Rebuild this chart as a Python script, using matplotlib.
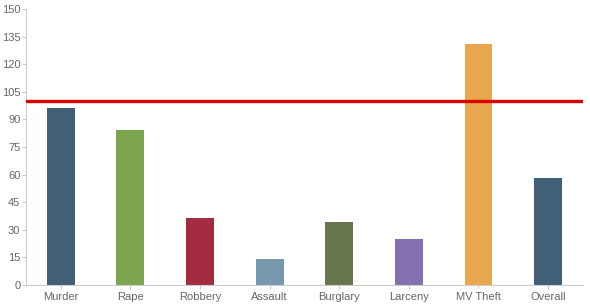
import matplotlib
matplotlib.use("Agg")
import matplotlib.pyplot as plt

categories = ["Murder", "Rape", "Robbery", "Assault", "Burglary", "Larceny", "MV Theft", "Overall"]
values = [96.2, 84.2, 36.4, 14.1, 34.2, 25.0, 131.0, 58.2]
colors = ["#425f78", "#7ba54f", "#a42c41", "#7699b0", "#66754b", "#8270b0", "#e8a74f", "#425f78"]
reference = 100
yticks = list(range(0, 151, 15))

plt.rcParams["font.family"] = ["Liberation Sans", "DejaVu Sans"]

fig = plt.figure(figsize=(5.9, 3.05), dpi=100)
ax = fig.add_axes([0.044, 0.0656, 0.944, 0.905])

x = list(range(len(categories)))
ax.bar(x, values, width=0.4, color=colors, zorder=2)
ax.axhline(reference, color="#dd0000", linewidth=2.4, zorder=3)

ax.set_xlim(-0.5, len(categories) - 0.5)
ax.set_ylim(0, 150)
ax.set_yticks(yticks)
ax.set_xticks(x)
ax.set_xticklabels(categories)

for side in ["top", "right"]:
    ax.spines[side].set_visible(False)
for side in ["left", "bottom"]:
    ax.spines[side].set_color("#cccccc")
    ax.spines[side].set_linewidth(0.8)

ax.tick_params(axis="both", colors="#cccccc", labelcolor="#666666", labelsize=8, length=3, width=0.8)
ax.tick_params(axis="y", pad=1)
ax.tick_params(axis="x", pad=2)

fig.savefig("out.png", dpi=100)
